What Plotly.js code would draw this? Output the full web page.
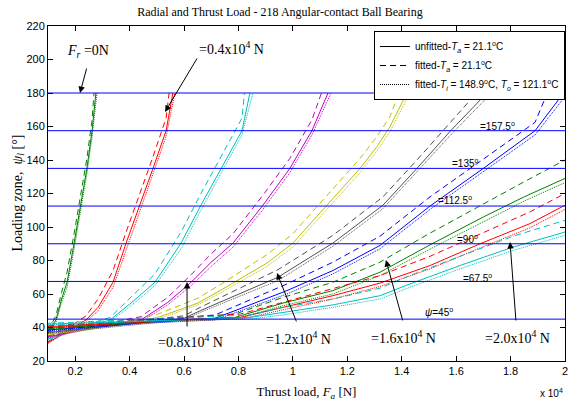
<!DOCTYPE html>
<html><head><meta charset="utf-8">
<script src="https://cdn.plot.ly/plotly-3.0.1.min.js"></script>
<style>html,body{margin:0;padding:0;background:#fff}#chart{width:569px;height:403px}</style>
</head><body><div id="chart"></div>
<script>
// Radial loads Fr (x10^4 N), one family of curves each
const radialLoads = ['0', '0.4', '0.6', '0.8', '1.0', '1.2', '1.4', '1.6', '1.8', '2.0'];
const seriesColors = ['#008000', '#ff0000', '#00bfbf', '#bf00bf', '#bfbf00', '#505050', '#0000ff', '#008000', '#ff0000', '#00bfbf'];
// Loading-zone reference angles (deg)
const refAngles = [45, 67.5, 90, 112.5, 135, 157.5, 180];
const xTickVals = [0.2, 0.4, 0.6, 0.8, 1.0, 1.2, 1.4, 1.6, 1.8, 2.0];
const xTickText = ['0.2', '0.4', '0.6', '0.8', '1', '1.2', '1.4', '1.6', '1.8', '2'];

// Thrust load Fa (x10^4 N) and loading zone (deg): solid = unfitted Ta, dashed = fitted Ta, dotted = fitted Ti/To
const fa_Fr00 = [0.10, 0.129, 0.150, 0.170, 0.196, 0.221, 0.243, 0.262, 0.276];
const ys_Fr00 = [37, 44.5, 57, 67, 90.4, 113, 135, 157.5, 180];
const yd_Fr00 = [38, 47, 61, 73, 96, 119, 141, 164, 180];
const yt_Fr00 = [36.5, 43, 55, 64, 87, 110, 132, 154, 180];

const fa_Fr04 = [0.10, 0.17, 0.240, 0.284, 0.339, 0.387, 0.438, 0.486, 0.534, 0.559];
const ys_Fr04 = [31, 38, 44.5, 52, 67, 90.4, 113, 135, 157.5, 180];
const yd_Fr04 = [31.5, 39, 47, 57, 74, 97, 120, 142, 165, 180];
const yt_Fr04 = [30.5, 37.5, 43.5, 50, 64, 86, 109, 131, 154, 180];

const fa_Fr06 = [0.10, 0.20, 0.328, 0.405, 0.493, 0.589, 0.662, 0.736, 0.813, 0.842];
const ys_Fr06 = [33, 38.5, 44.5, 54.6, 67, 90.4, 113, 135, 157.5, 180];
const yd_Fr06 = [33.5, 39.5, 46, 58, 72, 97, 120, 142, 165, 180];
const yt_Fr06 = [32.5, 38, 43.5, 53, 65, 87, 110, 132, 155, 180];

const fa_Fr08 = [0.10, 0.30, 0.442, 0.540, 0.626, 0.700, 0.780, 0.890, 0.989, 1.070, 1.129];
const ys_Fr08 = [34.5, 41, 44.5, 55, 67, 79, 90.4, 113, 135, 157.5, 180];
const yd_Fr08 = [35, 42, 46.5, 58, 71.5, 84, 96, 119, 141, 164, 180];
const yt_Fr08 = [34, 40.5, 43.5, 53.5, 65, 76.5, 88, 110.5, 132.5, 155, 180];

const fa_Fr10 = [0.10, 0.35, 0.504, 0.651, 0.732, 0.905, 1.000, 1.125, 1.247, 1.309, 1.357, 1.419];
const ys_Fr10 = [36, 41.5, 46, 54.6, 62, 78.5, 90.4, 113, 135, 148, 160, 180];
const yd_Fr10 = [36.5, 42.5, 48, 57.5, 65.5, 83.5, 96, 119, 141, 154, 166, 180];
const yt_Fr10 = [35.5, 41, 45, 53.5, 60.5, 76.5, 88, 110.5, 132.5, 145.5, 157, 180];

const fa_Fr12 = [0.10, 0.40, 0.60, 0.659, 0.817, 0.945, 1.147, 1.331, 1.456, 1.580, 1.713];
const ys_Fr12 = [37, 42, 45.5, 50, 61, 70, 90.4, 113, 135, 157.5, 180];
const yd_Fr12 = [37.5, 43, 47, 52, 64.5, 74.5, 95, 118, 140, 162.5, 180];
const yt_Fr12 = [36.5, 41.5, 44.5, 49, 59.5, 68, 88.5, 111, 133, 155, 180];

const fa_Fr14 = [0.10, 0.45, 0.714, 0.978, 1.147, 1.320, 1.504, 1.700, 1.890, 1.995];
const ys_Fr14 = [38.5, 43, 45.5, 62, 74, 89, 112.5, 135, 157.5, 180];
const yd_Fr14 = [39, 44, 47.5, 66, 79, 94.5, 118, 140.5, 162.5, 180];
const yt_Fr14 = [38, 42.5, 44.5, 60, 72, 87, 110.5, 133, 155, 180];

const fa_Fr16 = [0.10, 0.50, 0.787, 0.964, 1.147, 1.320, 1.500, 1.700, 1.850, 2.0];
const ys_Fr16 = [39.5, 44, 46, 54.6, 62, 73, 89, 106, 118, 129];
const yd_Fr16 = [40, 45, 48, 58, 67, 79, 96, 114, 127, 140];
const yt_Fr16 = [39, 43.5, 45, 53, 60, 71, 86.5, 103, 115.5, 126.5];

const fa_Fr18 = [0.10, 0.55, 0.806, 0.964, 1.147, 1.320, 1.504, 1.688, 1.871, 2.0];
const ys_Fr18 = [40.5, 44.5, 46, 52, 59, 66.5, 77, 90, 102, 113];
const yd_Fr18 = [41, 45.5, 48, 55, 63, 71, 82.5, 96, 109, 120];
const yt_Fr18 = [40, 44, 45, 50.5, 57, 64.5, 75, 87.5, 99.5, 110.5];

const fa_Fr20 = [0.10, 0.60, 0.842, 0.964, 1.147, 1.320, 1.430, 1.614, 1.809, 2.0];
const ys_Fr20 = [42, 45, 46, 49, 53.5, 59, 66, 77, 88, 97];
const yd_Fr20 = [42.5, 46, 47.5, 52, 57, 63.5, 71, 82.5, 94.5, 104];
const yt_Fr20 = [41.5, 44.5, 45, 47.5, 52, 57, 64, 75, 86, 95];

// Thrust load at which the dashed / dotted variants end (reach 180 deg or the axis end)
const faEnd_dashed = [0.269, 0.545, 0.822, 1.105, 1.390, 1.675, 1.935, 2.0, 2.0, 2.0];
const faEnd_dotted = [0.280, 0.566, 0.853, 1.140, 1.430, 1.730, 2.010, 2.0, 2.0, 2.0];

const families = [
  [fa_Fr00, ys_Fr00, yd_Fr00, yt_Fr00], [fa_Fr04, ys_Fr04, yd_Fr04, yt_Fr04],
  [fa_Fr06, ys_Fr06, yd_Fr06, yt_Fr06], [fa_Fr08, ys_Fr08, yd_Fr08, yt_Fr08],
  [fa_Fr10, ys_Fr10, yd_Fr10, yt_Fr10], [fa_Fr12, ys_Fr12, yd_Fr12, yt_Fr12],
  [fa_Fr14, ys_Fr14, yd_Fr14, yt_Fr14], [fa_Fr16, ys_Fr16, yd_Fr16, yt_Fr16],
  [fa_Fr18, ys_Fr18, yd_Fr18, yt_Fr18], [fa_Fr20, ys_Fr20, yd_Fr20, yt_Fr20]
];

const legendNames = [
  'unfitted-<i>T</i><sub><i>a</i></sub> = 21.1<sup>o</sup>C',
  'fitted-<i>T</i><sub><i>a</i></sub> = 21.1<sup>o</sup>C',
  'fitted-<i>T</i><sub><i>i</i></sub> = 148.9<sup>o</sup>C, <i>T</i><sub><i>o</i></sub> = 121.1<sup>o</sup>C'
];
const dashStyles = ['solid', '6px,4px', '1px,1px'];

const traces = [];
legendNames.forEach((nm, k) => {
  traces.push({x: [null], y: [null], type: 'scatter', mode: 'lines', name: nm,
    line: {color: 'black', width: 1, dash: dashStyles[k]}, showlegend: true, hoverinfo: 'skip'});
});
families.forEach((f, i) => {
  const ends = [null, faEnd_dashed[i], faEnd_dotted[i]];
  for (let k = 0; k < 3; k++) {
    const xs = f[0].slice();
    if (ends[k] !== null) xs[xs.length - 1] = ends[k];
    traces.push({x: xs, y: f[k + 1], type: 'scatter', mode: 'lines',
      name: 'Fr=' + radialLoads[i], showlegend: false,
      line: {color: seriesColors[i], width: 1, dash: dashStyles[k]}});
  }
});

const shapes = refAngles.map(a => ({type: 'line', xref: 'paper', x0: 0, x1: 1, yref: 'y', y0: a, y1: a,
  line: {color: '#0000ff', width: 1}, layer: 'above'}));

const serif = 'Liberation Serif, Times New Roman, serif';
const sans = 'Liberation Sans, Arial, sans-serif';
function arrow(tx, ty, ax, ay) {
  return {x: tx, y: ty, ax: ax, ay: ay, axref: 'x', ayref: 'y', xref: 'x', yref: 'y', text: '',
    showarrow: true, arrowhead: 2, arrowsize: 1.3, arrowwidth: 1, arrowcolor: 'black'};
}
function label(x, y, t, font, anchor) {
  return {x: x, y: y, xref: 'x', yref: 'y', text: t, showarrow: false, font: font,
    xanchor: anchor || 'center', yanchor: 'middle'};
}
const bigF = {family: serif, size: 14, color: 'black'};
const smallF = {family: sans, size: 10, color: 'black'};
const annotations = [
  arrow(0.2176, 180, 0.2433, 195.5),
  arrow(0.530, 168.7, 0.651, 201.5),
  arrow(0.611, 67.2, 0.611, 39.7),
  arrow(0.9416, 72.5, 1.015, 42.7),
  arrow(1.342, 80.3, 1.405, 43.3),
  arrow(1.798, 91.0, 1.820, 43.3),
  label(0.247, 204.5, '<i>F</i><sub><i>r</i></sub> =0N', bigF),
  label(0.776, 206.9, '=0.4x10<sup>4</sup> N', bigF),
  label(0.622, 31.9, '=0.8x10<sup>4</sup> N', bigF),
  label(1.019, 33.7, '=1.2x10<sup>4</sup> N', bigF),
  label(1.405, 34.3, '=1.6x10<sup>4</sup> N', bigF),
  label(1.824, 34.3, '=2.0x10<sup>4</sup> N', bigF),
  label(1.753, 160.3, '=157.5<sup>o</sup>', smallF),
  label(1.636, 138.2, '=135<sup>o</sup>', smallF),
  label(1.596, 116.1, '=112.5<sup>o</sup>', smallF),
  label(1.643, 92.8, '=90<sup>o</sup>', smallF),
  label(1.680, 69.6, '=67.5<sup>o</sup>', smallF),
  label(1.537, 49.3, '<i>ψ</i>=45<sup>o</sup>', smallF),
  {xref: 'paper', yref: 'paper', x: 1, y: -0.072, xanchor: 'right', yanchor: 'top', showarrow: false,
    text: 'x 10<sup>4</sup>', font: {family: sans, size: 10, color: 'black'}},
  {xref: 'paper', yref: 'paper', x: -0.058, y: 0.5, xanchor: 'center', yanchor: 'middle', showarrow: false,
    textangle: -90, text: 'Loading zone,  <i>ψ</i><sub><i>l</i></sub> [°]', font: {family: serif, size: 14, color: 'black'}}
];

const axisCommon = {showgrid: false, zeroline: false, showline: true, linecolor: 'black', linewidth: 1,
  mirror: 'ticks', ticks: 'inside', ticklen: 5, tickcolor: 'black', tickwidth: 1,
  tickfont: {family: sans, size: 11, color: 'black'}};

const layout = {
  width: 569, height: 403,
  margin: {l: 48, r: 4, t: 26, b: 42, pad: 0},
  paper_bgcolor: 'white', plot_bgcolor: 'white',
  title: {text: 'Radial and Thrust Load - 218 Angular-contact Ball Bearing', x: 0.492, xref: 'container',
    y: 0.97, yref: 'container', yanchor: 'middle', font: {family: serif, size: 12, color: 'black'}},
  xaxis: Object.assign({}, axisCommon, {range: [0.1, 2], tickvals: xTickVals, ticktext: xTickText,
    title: {text: 'Thrust load, <i>F</i><sub><i>a</i></sub> [N]', font: {family: serif, size: 13, color: 'black'}, standoff: 10}}),
  yaxis: Object.assign({}, axisCommon, {range: [20, 220], dtick: 20, tick0: 20}),
  legend: {x: 1, xanchor: 'right', y: 0.985, yanchor: 'top', bgcolor: 'white', bordercolor: 'black', borderwidth: 1,
    font: {family: sans, size: 10, color: 'black'}, tracegroupgap: 0, itemwidth: 30},
  showlegend: true,
  shapes: shapes,
  annotations: annotations
};

Plotly.newPlot('chart', traces, layout, {displayModeBar: false, staticPlot: true});
</script></body></html>
